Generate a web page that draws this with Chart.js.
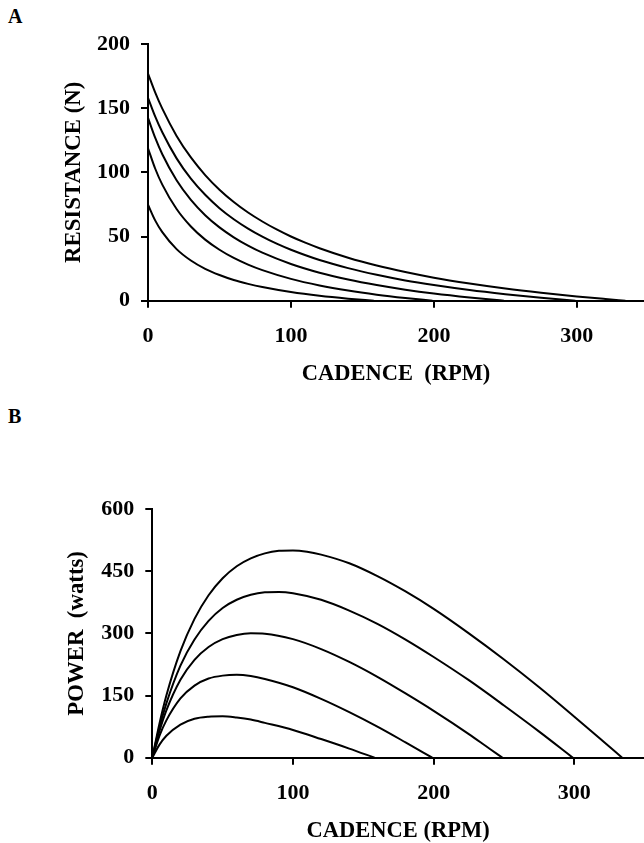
<!DOCTYPE html>
<html>
<head>
<meta charset="utf-8">
<script src="https://cdn.jsdelivr.net/npm/chart.js@4/dist/chart.umd.min.js"></script>
<style>
  html, body { margin: 0; padding: 0; background: #fff; }
  body { width: 644px; height: 843px; position: relative; overflow: hidden; }
  canvas { position: absolute; left: 0; }
  .panel { position: absolute; left: 8px; font: bold 20px/20px 'Liberation Serif', 'Times New Roman', serif; color: #000; }
</style>
</head>
<body>
<div class="panel" style="top:6px">A</div>
<div class="panel" style="top:406px">B</div>
<canvas id="resistanceChart" width="644" height="386" style="top:0"></canvas>
<canvas id="powerChart" width="644" height="443" style="top:400px"></canvas>
<script>
// cadence (rpm) sampled along each curve, highest curve first
var cad1 = [0, 5, 10, 20, 30, 40, 50, 60, 70, 80, 90, 100, 110, 120, 140, 160, 180, 200, 225, 250, 275, 300, 320, 334];
var cad2 = [0, 5, 10, 20, 30, 40, 50, 60, 70, 80, 90, 100, 120, 140, 160, 180, 200, 225, 250, 275, 299];
var cad3 = [0, 5, 10, 20, 30, 40, 50, 60, 70, 80, 100, 120, 140, 160, 180, 200, 225, 240, 249];
var cad4 = [0, 5, 10, 20, 30, 40, 50, 60, 70, 80, 100, 120, 140, 160, 180, 199];
var cad5 = [0, 5, 10, 20, 30, 40, 50, 60, 70, 80, 100, 120, 140, 158];

// panel A: resistance (N)
var force1 = [177, 162.3, 149.6, 128.4, 111.6, 97.9, 86.5, 76.9, 68.7, 61.7, 55.5, 50.0, 45.2, 40.9, 33.5, 27.4, 22.3, 17.9, 13.4, 9.5, 6.2, 3.3, 1.3, 0];
var force2 = [158.1, 143.6, 131.2, 110.9, 95.1, 82.5, 72.1, 63.5, 56.2, 49.9, 44.4, 39.7, 31.7, 25.4, 20.2, 15.8, 12.2, 8.3, 5.1, 2.3, 0];
var force3 = [142.4, 127.0, 114.1, 93.8, 78.5, 66.6, 57.1, 49.4, 42.9, 37.4, 28.6, 21.8, 16.5, 12.2, 8.6, 5.6, 2.5, 0.9, 0];
var force4 = [118.8, 103.0, 90.4, 71.4, 57.8, 47.6, 39.7, 33.3, 28.1, 23.8, 17.0, 11.9, 7.9, 4.7, 2.1, 0];
var force5 = [74.8, 62.6, 53.4, 40.2, 31.3, 24.8, 20.0, 16.1, 13.1, 10.6, 6.7, 3.8, 1.6, 0];

// panel B: power (watts)
var power1 = [0, 81, 150, 257, 335, 392, 433, 462, 481, 493, 499, 500, 497, 490, 469, 438, 401, 359, 300, 237, 170, 99, 41, 0];
var power2 = [0, 72, 131, 222, 285, 330, 361, 381, 393, 399, 400, 397, 381, 355, 323, 285, 243, 187, 126, 63, 0];
var power3 = [0, 63, 114, 188, 236, 267, 286, 296, 300, 299, 286, 262, 231, 195, 155, 113, 57, 21, 0];
var power4 = [0, 52, 90, 143, 174, 191, 198, 200, 197, 190, 170, 142, 110, 75, 37, 0];
var power5 = [0, 31, 53, 80, 94, 99, 100, 97, 92, 84, 67, 45, 22, 0];

var xTicks = [0, 100, 200, 300];
var resistanceTicks = [0, 50, 100, 150, 200];
var powerTicks = [0, 150, 300, 450, 600];

var FONT = "'Liberation Serif', 'Times New Roman', serif";

function points(xs, ys) {
    return xs.map(function(x, i) { return {x: x, y: ys[i]}; });
}

function lines(cads, vals) {
    return cads.map(function(c, i) {
        return {
            data: points(c, vals[i]),
            borderColor: '#000',
            borderWidth: 2,
            pointRadius: 0,
            fill: false,
            cubicInterpolationMode: 'monotone'
        };
    });
}

function axisStyle() {
    return {
        border: { display: true, color: '#000', width: 2 },
        grid: { display: true, drawOnChartArea: false, drawTicks: true, tickLength: 7, color: '#000', lineWidth: 2 }
    };
}

function makeChart(id, datasets, cfg) {
    var xAxis = axisStyle();
    var yAxis = axisStyle();
    xAxis.type = 'linear';
    xAxis.min = 0;
    xAxis.max = cfg.xMax;
    xAxis.afterBuildTicks = function(s) { s.ticks = xTicks.map(function(v) { return {value: v}; }); };
    xAxis.afterFit = function(s) { s.height = 85.3; };
    xAxis.ticks = { color: '#000', padding: 15, font: { family: FONT, size: 22, weight: 'bold' } };
    xAxis.title = { display: true, text: cfg.xTitle, color: '#000', padding: 0,
                    font: { family: FONT, size: 22.5, weight: 'bold', lineHeight: 1.08 } };

    yAxis.min = 0;
    yAxis.max = cfg.yTicks[cfg.yTicks.length - 1];
    yAxis.afterBuildTicks = function(s) { s.ticks = cfg.yTicks.map(function(v) { return {value: v}; }); };
    yAxis.afterFit = function(s) { s.width = cfg.yWidth; };
    yAxis.ticks = { color: '#000', padding: 11, font: { family: FONT, size: 22, weight: 'bold' } };
    yAxis.title = { display: true, text: cfg.yTitle, color: '#000', padding: 0,
                    font: { family: FONT, size: 22.8, weight: 'bold', lineHeight: 1.08 } };

    return new Chart(document.getElementById(id), {
        type: 'line',
        data: { datasets: datasets },
        options: {
            responsive: false,
            animation: false,
            layout: { padding: { left: cfg.padLeft, top: cfg.padTop, right: 0, bottom: 0 } },
            plugins: { legend: { display: false }, tooltip: { enabled: false } },
            scales: { x: xAxis, y: yAxis }
        }
    });
}

var cads = [cad1, cad2, cad3, cad4, cad5];

makeChart('resistanceChart', lines(cads, [force1, force2, force3, force4, force5]), {
    xMax: 347, yTicks: resistanceTicks,
    xTitle: 'CADENCE  (RPM)', yTitle: 'RESISTANCE (N)',
    padLeft: 62, padTop: 44, yWidth: 86
});

makeChart('powerChart', lines(cads, [power1, power2, power3, power4, power5]), {
    xMax: 349.5, yTicks: powerTicks,
    xTitle: 'CADENCE (RPM)', yTitle: 'POWER  (watts)',
    padLeft: 65, padTop: 109, yWidth: 87.3
});
</script>
</body>
</html>
